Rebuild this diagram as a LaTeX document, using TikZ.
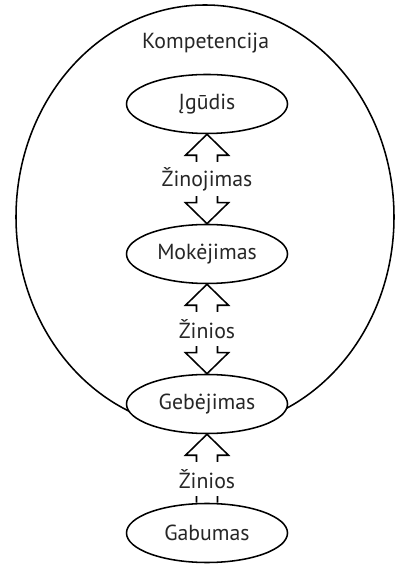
\documentclass[tikz,border=0pt]{standalone}
\usepackage{fontspec}
\setmainfont{PT Sans}
\usepackage{tikz}
\usetikzlibrary{shapes.geometric,calc}
\pgfdeclarelayer{background}
\pgfsetlayers{background,main}
\tikzset{
  oval/.style={ellipse, draw, fill=white, line width=1.1pt, minimum width=4.025cm, minimum height=1.475cm, text=black!85, font=\fontsize{15.5}{18}\selectfont},
  txt/.style={text=black!85, font=\fontsize{15.5}{18}\selectfont},
  lbl/.style={fill=white, inner sep=1pt, minimum height=0.85cm, text=black!85, font=\fontsize{15.5}{18}\selectfont},
  fat/.style={draw, line width=1.1pt, line join=miter}
}

\begin{document}
\begin{tikzpicture}
\useasboundingbox (0,0) rectangle (9.875,14.15);
\draw[line width=1.1pt] (5.125,8.725) ellipse (4.725 and 5.3);
\node[txt] (kompetencija) at (5.14,13.075) {Kompetencija};
\node[oval] (igudis) at (5.175,11.55) {Įgūdis};
\node[oval] (mokejimas) at (5.175,7.8) {Mokėjimas};
\node[oval] (gebejimas) at (5.175,4.05) {Gebėjimas};
\node[oval] (gabumas) at (5.175,0.825) {Gabumas};
\node[lbl] (zinojimas) at ($(igudis.south)!0.5!(mokejimas.north)$) {Žinojimas};
\node[lbl] (zinios) at ($(mokejimas.south)!0.5!(gebejimas.north)$) {Žinios};
\node[lbl] (zinios2) at (5.175,2.175) {Žinios};
  \begin{pgfonlayer}{background}
\draw[fat] (igudis.south) -- ++(-0.5375,-0.525) -- ++(0.275,0)
  -- ($(mokejimas.north)+(-0.2625,0.525)$) -- ++(-0.275,0) -- (mokejimas.north)
  -- ++(0.5375,0.525) -- ++(-0.275,0)
  -- ($(igudis.south)+(0.2625,-0.525)$) -- ++(0.275,0) -- cycle;
\draw[fat] (mokejimas.south) -- ++(-0.5375,-0.525) -- ++(0.275,0)
  -- ($(gebejimas.north)+(-0.2625,0.525)$) -- ++(-0.275,0) -- (gebejimas.north)
  -- ++(0.5375,0.525) -- ++(-0.275,0)
  -- ($(mokejimas.south)+(0.2625,-0.525)$) -- ++(0.275,0) -- cycle;
\draw[fat] ($(gabumas.north)+(-0.2625,0)$) -- ($(gebejimas.south)+(-0.2625,-0.525)$)
  -- ++(-0.275,0) -- (gebejimas.south) -- ++(0.5375,-0.525) -- ++(-0.275,0)
  -- ($(gabumas.north)+(0.2625,0)$);
  \end{pgfonlayer}
\end{tikzpicture}
\end{document}
